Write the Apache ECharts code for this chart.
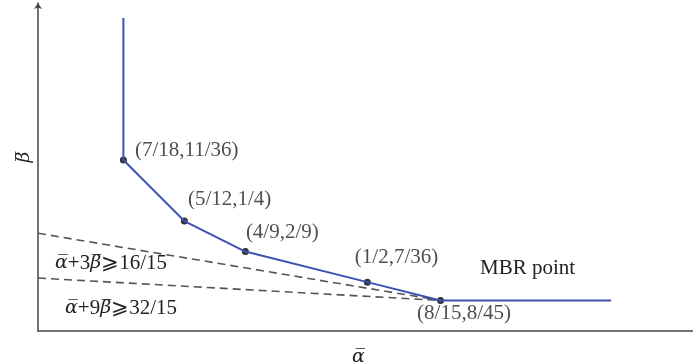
<!DOCTYPE html>
<html>
<head>
<meta charset="utf-8">
<script src="https://cdn.jsdelivr.net/npm/echarts@6/dist/echarts.min.js"></script>
<style>html,body{margin:0;padding:0;background:#fff}#c{width:693px;height:362px}</style>
</head>
<body>
<div id="c"></div>
<script>
// Vertex points of the boundary (alpha-bar, beta-bar)
const pointX = [7/18, 5/12, 4/9, 1/2, 8/15];
const pointY = [11/36, 1/4, 2/9, 7/36, 8/45];
const pointLabels = ['(7/18,11/36)', '(5/12,1/4)', '(4/9,2/9)', '(1/2,7/36)', '(8/15,8/45)'];
// Boundary curve: vertical ray above first point, then vertices, then horizontal ray
const curveX = [7/18, 7/18, 5/12, 4/9, 1/2, 8/15, 0.611];
const curveY = [0.4347, 11/36, 1/4, 2/9, 7/36, 8/45, 8/45];
// Dashed supporting lines
const line1X = [0.35, 8/15];           // alpha + 3 beta = 16/15
const line1Y = line1X.map(a => (16/15 - a) / 3);
const line2X = [0.35, 8/15];           // alpha + 9 beta = 32/15
const line2Y = line2X.map(a => (32/15 - a) / 9);
const line1Text = '{g|α̅}+3{g|β̅}⩾16/15';
const line2Text = '{g|α̅}+9{g|β̅}⩾32/15';
const mbrText = 'MBR point';
const xName = 'α̅';
const yName = 'β̅';

const serif = '"Liberation Serif","DejaVu Serif",serif';
const greek = '"DejaVu Serif",serif';
const labelOffsets = [[3,-9],[-5,-22],[-8,-19],[-21,-25],[-32,13]];
const FS = 21;

const chart = echarts.init(document.getElementById('c'));
const zip = (xs, ys) => xs.map((x, i) => [x, ys[i]]);
const richG = {g: {fontFamily: greek, fontStyle: 'italic', fontSize: FS - 2, fill: '#222', color: '#222'}};
chart.setOption({
  animation: false,
  grid: {left: 38, top: 3, right: 0, bottom: 31, outerBoundsMode: 'none'},
  xAxis: {
    type: 'value', min: 0.35, max: 0.6483,
    axisLine: {lineStyle: {color: '#444', width: 1.5}},
    axisTick: {show: false}, axisLabel: {show: false}, splitLine: {show: false},
    name: xName, nameLocation: 'middle', nameGap: 17,
    nameTextStyle: {fontFamily: greek, fontStyle: 'italic', fontSize: FS - 2, color: '#222', padding: [0, 14, 0, 0]}
  },
  yAxis: {
    type: 'value', min: 0.15, max: 0.4483,
    axisLine: {lineStyle: {color: '#444', width: 1.5}, symbol: ['none', 'arrow'], symbolSize: [6, 6]},
    axisTick: {show: false}, axisLabel: {show: false}, splitLine: {show: false},
    name: yName, nameLocation: 'middle', nameGap: 4,
    nameTextStyle: {fontFamily: greek, fontStyle: 'italic', fontSize: FS - 2, color: '#222', padding: [0, 0, 0, 20]}
  },
  series: [
    {
      type: 'line', data: zip(line1X, line1Y), symbol: 'none',
      lineStyle: {color: '#555', width: 1.6, type: [8, 5]}
    },
    {
      type: 'line', data: zip(line2X, line2Y), symbol: 'none',
      lineStyle: {color: '#555', width: 1.6, type: [8, 5]}
    },
    {
      type: 'line', data: zip(curveX, curveY), symbol: 'none',
      lineStyle: {color: '#3f51b5', width: 2}
    },
    {
      type: 'scatter', symbolSize: 7, itemStyle: {color: '#000'},
      data: pointX.map((x, i) => ({
        value: [x, pointY[i]],
        label: {show: true, position: 'right', offset: labelOffsets[i], formatter: pointLabels[i]}
      })),
      label: {fontFamily: serif, fontSize: FS, color: '#222'}
    }
  ],
  graphic: [
    {type: 'text', left: 55, top: 253, style: {text: line1Text, font: FS + 'px ' + serif, fill: '#222', rich: richG}},
    {type: 'text', left: 65, top: 298, style: {text: line2Text, font: FS + 'px ' + serif, fill: '#222', rich: richG}},
    {type: 'text', left: 480, top: 258, style: {text: mbrText, font: FS + 'px ' + serif, fill: '#222'}}
  ]
});
</script>
</body>
</html>
